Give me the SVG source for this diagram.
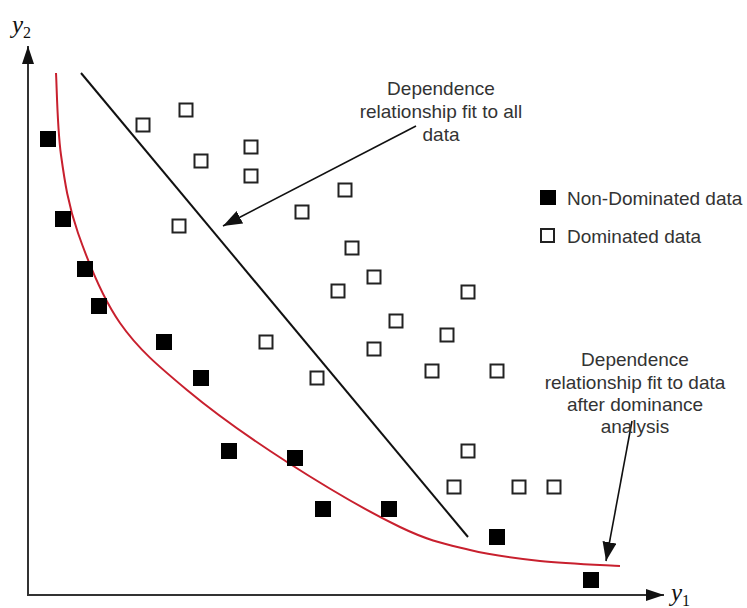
<svg xmlns="http://www.w3.org/2000/svg" width="747" height="608" viewBox="0 0 747 608">
  <style>
    .lbl { font-family: "Liberation Sans", Arial, sans-serif; font-size: 19px; fill: #333; }
    .ann { text-anchor: middle; }
    .axis { stroke: #333; stroke-width: 2; fill: none; }
    .var { font-family: "Liberation Serif", "Times New Roman", serif; fill: #111; }
    .nd { fill: #000; }
    .dom { fill: #fff; stroke: #222; stroke-width: 2; }
    .pointer { stroke: #111; stroke-width: 1.6; fill: none; }
  </style>
  <defs>
    <marker id="axhead" markerUnits="userSpaceOnUse" markerWidth="20" markerHeight="14" refX="18" refY="6" orient="auto">
      <path d="M0,0 L18,6 L0,12 Z" fill="#111"/>
    </marker>
    <marker id="arrhead" markerUnits="userSpaceOnUse" markerWidth="22" markerHeight="16" refX="19" refY="7" orient="auto">
      <path d="M0,0 L19,7 L0,14 Z" fill="#111"/>
    </marker>
    <rect id="ndSq" class="nd" x="-8" y="-8" width="16" height="16"/>
    <rect id="domSq" class="dom" x="-6.5" y="-6.5" width="13" height="13"/>
  </defs>

  <!-- axes -->
  <g id="axes">
    <line class="axis" x1="28" y1="596" x2="28" y2="46" marker-end="url(#axhead)"/>
    <line class="axis" x1="27" y1="595" x2="664" y2="595" marker-end="url(#axhead)"/>
    <text class="var" x="12" y="33" font-size="25" font-style="italic">y<tspan font-size="16" font-style="normal" dy="5">2</tspan></text>
    <text class="var" x="671" y="601" font-size="25" font-style="italic">y<tspan font-size="16" font-style="normal" dy="5">1</tspan></text>
  </g>

  <!-- fitted curves and pointers -->
  <g id="connectors">
    <line id="fit-all" x1="81" y1="73" x2="468" y2="537" stroke="#111" stroke-width="2"/>
    <path id="fit-front" fill="none" stroke="#c8202e" stroke-width="2"
      d="M56,73 C56.8,86.7 57.3,128.3 61,155 C64.7,181.7 68.2,205 78,233 C87.8,261 101.8,296.8 120,323 C138.2,349.2 159.2,366.8 187,390 C214.8,413.2 251.5,439.2 287,462 C322.5,484.8 369.5,512.3 400,527 C430.5,541.7 446.7,544.3 470,550 C493.3,555.7 515,558.3 540,561 C565,563.7 606.7,565.2 620,566"/>
    <line class="pointer" x1="416" y1="126" x2="223" y2="226" marker-end="url(#arrhead)"/>
    <line class="pointer" x1="632" y1="421" x2="606" y2="561" marker-end="url(#arrhead)"/>
  </g>

  <!-- non-dominated points -->
  <g id="non-dominated">
    <use href="#ndSq" x="48" y="139"/>
    <use href="#ndSq" x="63" y="219"/>
    <use href="#ndSq" x="85" y="269"/>
    <use href="#ndSq" x="99" y="306"/>
    <use href="#ndSq" x="164" y="342"/>
    <use href="#ndSq" x="201" y="378"/>
    <use href="#ndSq" x="229" y="451"/>
    <use href="#ndSq" x="295" y="458"/>
    <use href="#ndSq" x="323" y="509"/>
    <use href="#ndSq" x="389" y="509"/>
    <use href="#ndSq" x="497" y="537"/>
    <use href="#ndSq" x="591" y="580"/>
  </g>

  <!-- dominated points -->
  <g id="dominated">
    <use href="#domSq" x="143" y="125"/>
    <use href="#domSq" x="186" y="110"/>
    <use href="#domSq" x="201" y="161"/>
    <use href="#domSq" x="251" y="147"/>
    <use href="#domSq" x="251" y="176"/>
    <use href="#domSq" x="179" y="226"/>
    <use href="#domSq" x="302" y="212"/>
    <use href="#domSq" x="345" y="190"/>
    <use href="#domSq" x="352" y="248"/>
    <use href="#domSq" x="374" y="277"/>
    <use href="#domSq" x="338" y="291"/>
    <use href="#domSq" x="468" y="292"/>
    <use href="#domSq" x="396" y="321"/>
    <use href="#domSq" x="447" y="335"/>
    <use href="#domSq" x="374" y="349"/>
    <use href="#domSq" x="266" y="342"/>
    <use href="#domSq" x="317" y="378"/>
    <use href="#domSq" x="432" y="371"/>
    <use href="#domSq" x="497" y="371"/>
    <use href="#domSq" x="468" y="451"/>
    <use href="#domSq" x="454" y="487"/>
    <use href="#domSq" x="519" y="487"/>
    <use href="#domSq" x="554" y="487"/>
  </g>

  <!-- legend -->
  <g id="legend">
    <rect class="nd" x="540" y="190" width="16" height="15"/>
    <text class="lbl" x="567" y="205">Non-Dominated data</text>
    <rect class="dom" x="541" y="229" width="13" height="13"/>
    <text class="lbl" x="567" y="243">Dominated data</text>
  </g>

  <!-- annotations -->
  <g id="note-all">
    <text class="lbl ann" x="441" y="95">Dependence</text>
    <text class="lbl ann" x="441" y="118">relationship fit to all</text>
    <text class="lbl ann" x="441" y="141">data</text>
  </g>
  <g id="note-front">
    <text class="lbl ann" x="635" y="366">Dependence</text>
    <text class="lbl ann" x="635" y="389">relationship fit to data</text>
    <text class="lbl ann" x="635" y="411">after dominance</text>
    <text class="lbl ann" x="635" y="433">analysis</text>
  </g>
</svg>
